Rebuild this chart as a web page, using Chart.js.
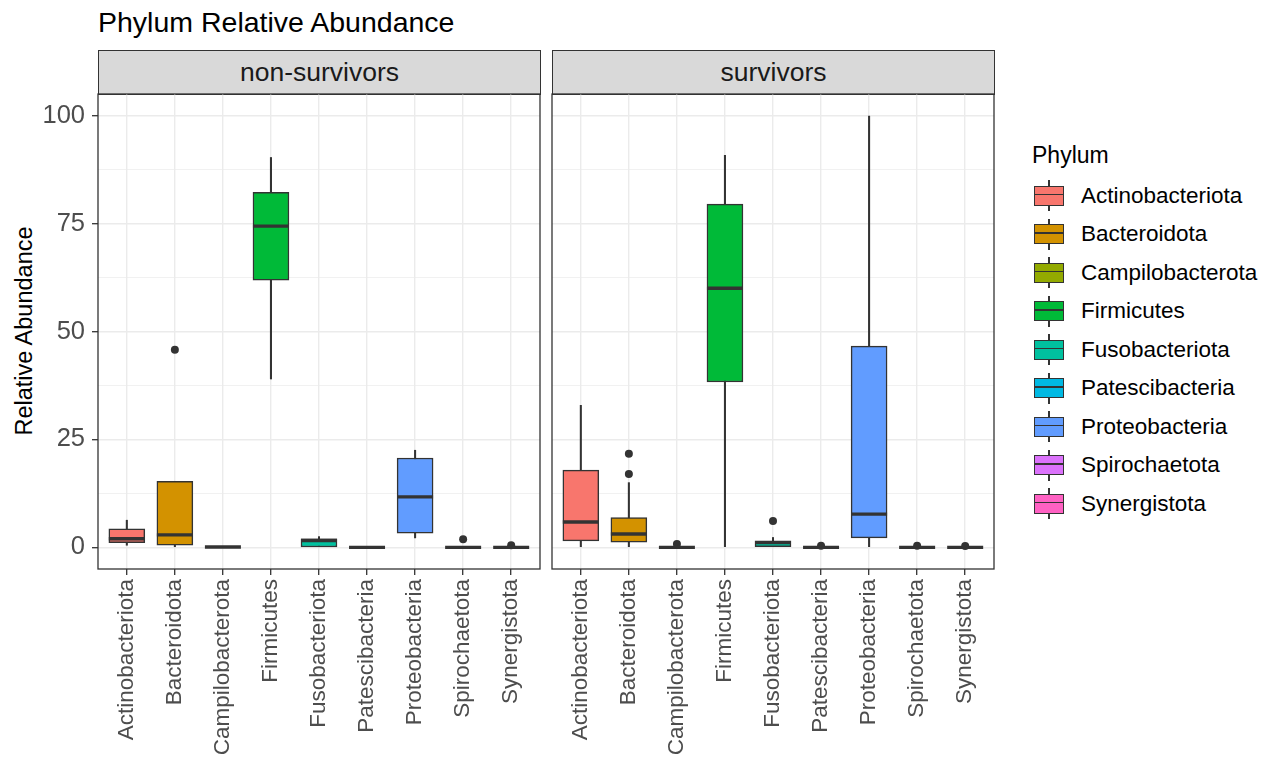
<!DOCTYPE html>
<html><head><meta charset="utf-8">
<script src="https://cdn.jsdelivr.net/npm/chart.js@4/dist/chart.umd.min.js"></script>
<style>
body{margin:0;width:1275px;height:763px;background:#fff;position:relative;overflow:hidden;font-family:"Liberation Sans",Arial,sans-serif;}
#title{position:absolute;left:98px;top:6px;font-size:28.5px;line-height:32px;color:#000;white-space:nowrap;}
.strip{position:absolute;top:50px;height:45px;background:#D9D9D9;border:1.3px solid #333;box-sizing:border-box;font-size:26.5px;color:#1A1A1A;display:flex;align-items:center;justify-content:center;white-space:nowrap;}
#ytitle{position:absolute;left:24px;top:331px;transform:translate(-50%,-50%) rotate(-90deg);font-size:23.5px;color:#000;white-space:nowrap;line-height:28px;}
canvas{position:absolute;}
#legtitle{position:absolute;left:1032px;top:141px;font-size:23px;line-height:28px;color:#000;}
.key{position:absolute;left:1034px;width:30px;height:31px;}
.key .wh{position:absolute;left:14.3px;top:0;width:1.4px;height:31px;background:#333;}
.key .bx{position:absolute;left:0;top:5.5px;width:30px;height:20px;box-sizing:border-box;border:1.5px solid #333;}
.key .md{position:absolute;left:0;right:0;top:7.3px;height:1.5px;background:#333;}
.lab{position:absolute;left:1081px;font-size:22.5px;line-height:28px;color:#000;white-space:nowrap;}
</style></head>
<body>
<div id="title">Phylum Relative Abundance</div>
<div class="strip" style="left:98px;width:443px;">non-survivors</div>
<div class="strip" style="left:552px;width:443px;">survivors</div>
<div id="ytitle">Relative Abundance</div>
<canvas id="c1" width="542" height="671" style="left:0px;top:92px;"></canvas>
<canvas id="c2" width="447" height="671" style="left:550px;top:92px;"></canvas>
<div id="legtitle">Phylum</div>
<div id="legend"></div>
<script>
const categories = ['Actinobacteriota','Bacteroidota','Campilobacterota','Firmicutes','Fusobacteriota','Patescibacteria','Proteobacteria','Spirochaetota','Synergistota'];

// non-survivors
const nsLow  = [0.5, 0.0, 0.1, 39.0, 0.0, 0.0,  2.2, 0.0, 0.0];
const nsQ1   = [1.1, 0.5, 0.1, 61.9, 0.1, 0.0,  3.3, 0.0, 0.0];
const nsMed  = [2.0, 2.9, 0.1, 74.4, 1.6, 0.0, 11.7, 0.0, 0.0];
const nsQ3   = [4.3, 15.3, 0.1, 82.2, 2.0, 0.0, 20.7, 0.0, 0.0];
const nsHigh = [6.3, 15.3, 0.1, 90.3, 2.5, 0.0, 22.5, 0.0, 0.0];
const nsOut  = [[], [45.8], [], [], [], [], [], [1.9], [0.5]];

// survivors
const svLow  = [0.0, 0.0, 0.0,  0.0, 0.0, 0.0,  0.0, 0.0, 0.0];
const svQ1   = [1.5, 1.2, 0.0, 38.3, 0.0, 0.0,  2.2, 0.0, 0.0];
const svMed  = [5.9, 3.1, 0.0, 60.0, 1.1, 0.0,  7.7, 0.0, 0.0];
const svQ3   = [17.9, 6.9, 0.0, 79.5, 1.5, 0.0, 46.6, 0.0, 0.0];
const svHigh = [32.9, 15.0, 0.0, 90.8, 2.3, 0.0, 99.9, 0.0, 0.0];
const svOut  = [[], [21.7, 17.0], [0.8], [], [6.1], [0.4], [], [0.4], [0.3]];

const yMajor = [0, 25, 50, 75, 100];
const yMinor = [12.5, 37.5, 62.5, 87.5];

const palette = ['#F8766D','#D39200','#93AA00','#00BA38','#00C19F','#00B9E3','#619CFF','#DB72FB','#FF61C3'];
const FONT = '"Liberation Sans", Arial, sans-serif';

const panelBorder = {
  id: 'panelBorder',
  afterDraw(chart) {
    const {ctx, chartArea: a} = chart;
    ctx.save();
    ctx.strokeStyle = '#333333';
    ctx.lineWidth = 1.3;
    ctx.strokeRect(a.left, a.top, a.right - a.left, a.bottom - a.top);
    ctx.restore();
  }
};

function zeroPad(s) { s.paddingTop = 0; s.paddingBottom = 0; s.paddingLeft = 0; s.paddingRight = 0; }

function makeChart(id, low, q1, med, q3, high, out, showY, pad) {
  const xs = categories.map((c, i) => i + 1);
  const allY = yMajor.concat(yMinor).sort((a, b) => a - b);
  return new Chart(document.getElementById(id), {
    type: 'bar',
    data: {
      datasets: [
        {type: 'bar', label: 'whisker', data: xs.map((x, i) => ({x, y: [low[i], high[i]]})),
         backgroundColor: '#333333', barThickness: 1.4, grouped: false, order: 3},
        {type: 'bar', label: 'box', data: xs.map((x, i) => ({x, y: [q1[i], q3[i]]})),
         backgroundColor: palette, borderColor: '#333333', borderWidth: 1.5, borderSkipped: false,
         barThickness: 36, grouped: false, order: 2},
        {type: 'scatter', label: 'median', data: xs.map((x, i) => ({x, y: med[i]})),
         pointStyle: 'line', pointRadius: 18, borderColor: '#333333', borderWidth: 3.4, order: 1},
        {type: 'scatter', label: 'outlier', data: out.flatMap((arr, i) => arr.map(v => ({x: i + 1, y: v}))),
         pointStyle: 'circle', pointRadius: 4, backgroundColor: '#333333', borderWidth: 0, order: 0}
      ]
    },
    options: {
      responsive: false,
      animation: false,
      layout: {padding: pad, autoPadding: false},
      plugins: {legend: {display: false}, tooltip: {enabled: false}},
      scales: {
        x: {
          type: 'linear', min: 0.4, max: 9.6, offset: false,
          afterBuildTicks: s => { s.ticks = xs.map(v => ({value: v})); },
          afterFit: s => { s.height = 194; zeroPad(s); },
          ticks: {autoSkip: false, minRotation: 90, maxRotation: 90, padding: 4, color: '#4D4D4D',
                  font: {family: FONT, size: 22.5}, callback: v => categories[Math.round(v) - 1]},
          grid: {offset: false, color: '#EBEBEB', lineWidth: 1.4, tickColor: '#333333', tickLength: 6, tickWidth: 1.3},
          border: {display: false}
        },
        y: {
          type: 'linear', min: -5, max: 105,
          afterBuildTicks: s => { s.ticks = allY.map(v => ({value: v})); },
          afterFit: s => { s.width = showY ? 98 : 0; zeroPad(s); },
          ticks: {display: showY, padding: 7, color: '#4D4D4D', font: {family: FONT, size: 25.5},
                  callback: v => yMajor.includes(v) ? String(v) : ''},
          grid: {color: '#EBEBEB',
                 lineWidth: c => (c.tick && yMajor.includes(c.tick.value)) ? 1.4 : 0.7,
                 tickColor: c => (c.tick && yMajor.includes(c.tick.value)) ? '#333333' : 'rgba(0,0,0,0)',
                 drawTicks: showY, tickLength: 6, tickWidth: 1.3},
          border: {display: false}
        }
      }
    },
    plugins: [panelBorder]
  });
}

makeChart('c1', nsLow, nsQ1, nsMed, nsQ3, nsHigh, nsOut, true, {top: 2, right: 2, left: 0, bottom: 0});
makeChart('c2', svLow, svQ1, svMed, svQ3, svHigh, svOut, false, {top: 2, right: 3, left: 2, bottom: 0});

const legend = document.getElementById('legend');
categories.forEach((c, i) => {
  const cy = 195.5 + i * 38.5;
  const k = document.createElement('div');
  k.className = 'key';
  k.style.top = (cy - 15.5) + 'px';
  k.innerHTML = '<div class="wh"></div><div class="bx" style="background:' + palette[i] + '"><div class="md"></div></div>';
  legend.appendChild(k);
  const t = document.createElement('div');
  t.className = 'lab';
  t.style.top = (cy - 14) + 'px';
  t.textContent = c;
  legend.appendChild(t);
});
</script>
</body></html>
